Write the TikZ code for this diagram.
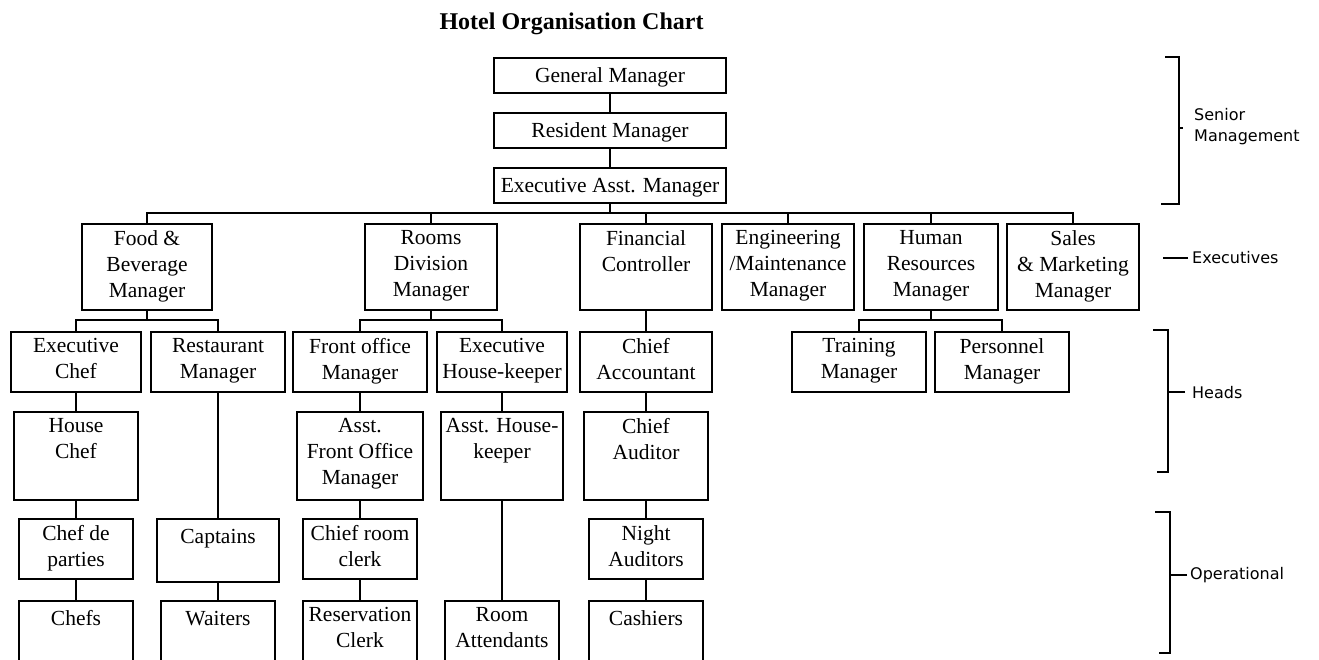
\documentclass[tikz,border=0pt]{standalone}
\usepackage{fontspec}
\setmainfont{Liberation Serif}
\newfontfamily\sidefont{DejaVu Sans}
\tikzset{
  box/.style={draw, line width=1.9pt, rectangle, inner sep=0pt, outer sep=0pt},
  txt/.style={inner sep=0pt, align=center, font=\fontsize{21.5}{26}\selectfont, execute at begin node=\strut, anchor=north},
  link/.style={line width=1.9pt},
  side/.style={font=\sidefont\fontsize{16}{21}\selectfont, inner sep=0pt, align=left},
}
\newcommand\mkbox[6]{%
  \node[box, minimum width=#4pt, minimum height=#5pt, anchor=north] (#1) at (#2,#3) {};
  \node[txt] (#1t) at ([yshift=-6.3pt]#1.north) {#6};}
\newcommand\vlink[2]{\draw[link] (#1.south) -- (#1.south |- #2.north);}
\begin{document}
\begin{tikzpicture}[x=1pt,y=-1pt]
\useasboundingbox (0,0) rectangle (1319,660);
\clip (0,0) rectangle (1319,660);
\fill[white] (0,0) rectangle (1319,660);

\node[font=\bfseries\fontsize{24}{28}\selectfont, anchor=base, inner sep=0pt] (title) at (571.5,30) {Hotel Organisation Chart};

% senior
\mkbox{gm}{610}{58}{232}{35}{General Manager}
\mkbox{rm}{610}{113}{232}{35}{Resident Manager}
\mkbox{eam}{610}{168}{232}{35}{Executive Asst. Manager}

% executives
\mkbox{fb}{147}{224}{130}{86}{Food \&\\Beverage\\Manager}
\mkbox{rd}{431}{224}{132}{86}{Rooms\\Division\\Manager}
\mkbox{fc}{646}{224}{132}{86}{Financial\\Controller}
\mkbox{eng}{788}{224}{132}{86}{Engineering\\/Maintenance\\Manager}
\mkbox{hr}{931}{224}{134}{86}{Human\\Resources\\Manager}
\mkbox{sm}{1073}{224}{132}{86}{Sales\\\& Marketing\\Manager}

% heads
\mkbox{ec}{76}{332}{130}{60}{Executive\\Chef}
\mkbox{rest}{218}{332}{134}{60}{Restaurant\\Manager}
\mkbox{fom}{360}{332}{134}{60}{Front office\\Manager}
\mkbox{ehk}{502}{332}{130}{60}{Executive\\House-keeper}
\mkbox{ca}{646}{332}{132}{60}{Chief\\Accountant}
\mkbox{tm}{859}{332}{134}{60}{Training\\Manager}
\mkbox{pm}{1002}{332}{134}{60}{Personnel\\Manager}

\mkbox{hc}{76}{412}{124}{88}{House\\Chef}
\mkbox{afom}{360}{412}{126}{88}{Asst.\\Front Office\\Manager}
\mkbox{ahk}{502}{412}{122}{88}{Asst. House-\\keeper}
\mkbox{cau}{646}{412}{124}{88}{Chief\\Auditor}

% operational
\mkbox{cdp}{76}{519}{114}{60}{Chef de\\parties}
\mkbox{cap}{218}{519}{122}{63}{Captains}
\mkbox{crc}{360}{519}{114}{60}{Chief room\\clerk}
\mkbox{na}{646}{519}{114}{60}{Night\\Auditors}

\mkbox{chefs}{76}{601}{114}{100}{Chefs}
\mkbox{wait}{218}{601}{114}{100}{Waiters}
\mkbox{resc}{360}{601}{114}{100}{Reservation\\Clerk}
\mkbox{ra}{502}{601}{114}{100}{Room\\Attendants}
\mkbox{cash}{646}{601}{114}{100}{Cashiers}

% connectors
\vlink{gm}{rm}
\vlink{rm}{eam}
\coordinate (bus) at (610,213);
\draw[link] (eam.south) -- (bus);
\foreach \n in {fb,rd,fc,eng,hr,sm} \draw[link] (\n.north) |- (bus);

\coordinate (fbb) at (147,320);
\draw[link] (fb.south) -- (fbb);
\draw[link] (ec.north) |- (fbb);
\draw[link] (rest.north) |- (fbb);

\coordinate (rdb) at (431,320);
\draw[link] (rd.south) -- (rdb);
\draw[link] (fom.north) |- (rdb);
\draw[link] (ehk.north) |- (rdb);

\coordinate (hrb) at (931,320);
\draw[link] (hr.south) -- (hrb);
\draw[link] (tm.north) |- (hrb);
\draw[link] (pm.north) |- (hrb);

\vlink{fc}{ca}
\vlink{ca}{cau}
\vlink{cau}{na}
\vlink{na}{cash}
\vlink{ec}{hc}
\vlink{hc}{cdp}
\vlink{cdp}{chefs}
\vlink{rest}{cap}
\vlink{cap}{wait}
\vlink{fom}{afom}
\vlink{afom}{crc}
\vlink{crc}{resc}
\vlink{ehk}{ahk}
\vlink{ahk}{ra}

% side labels
\draw[link] (1165,57) -- (1179,57) -- (1179,204) -- (1161,204);
\draw[link] (1179,128) -- (1183,128);
\node[side, anchor=north west] (lsen) at (1194,105.3) {\strut Senior\\Management};

\node[side, anchor=base west] (lexe) at (1192,264) {Executives};
\draw[link] ([xshift=-4pt]lexe.west) -- ++(-25,0);

\draw[link] (1153,330) -- (1168,330) -- (1168,472) -- (1157,472);
\node[side, anchor=base west] (lhead) at (1192,398) {Heads};
\draw[link] ([xshift=-7pt]lhead.west) -- ++(-17,0);

\draw[link] (1155,512) -- (1170,512) -- (1170,653) -- (1159,653);
\node[side, anchor=base west] (lop) at (1190,579) {Operational};
\draw[link] ([xshift=-3pt]lop.west) -- ++(-17,0);
\end{tikzpicture}
\end{document}
